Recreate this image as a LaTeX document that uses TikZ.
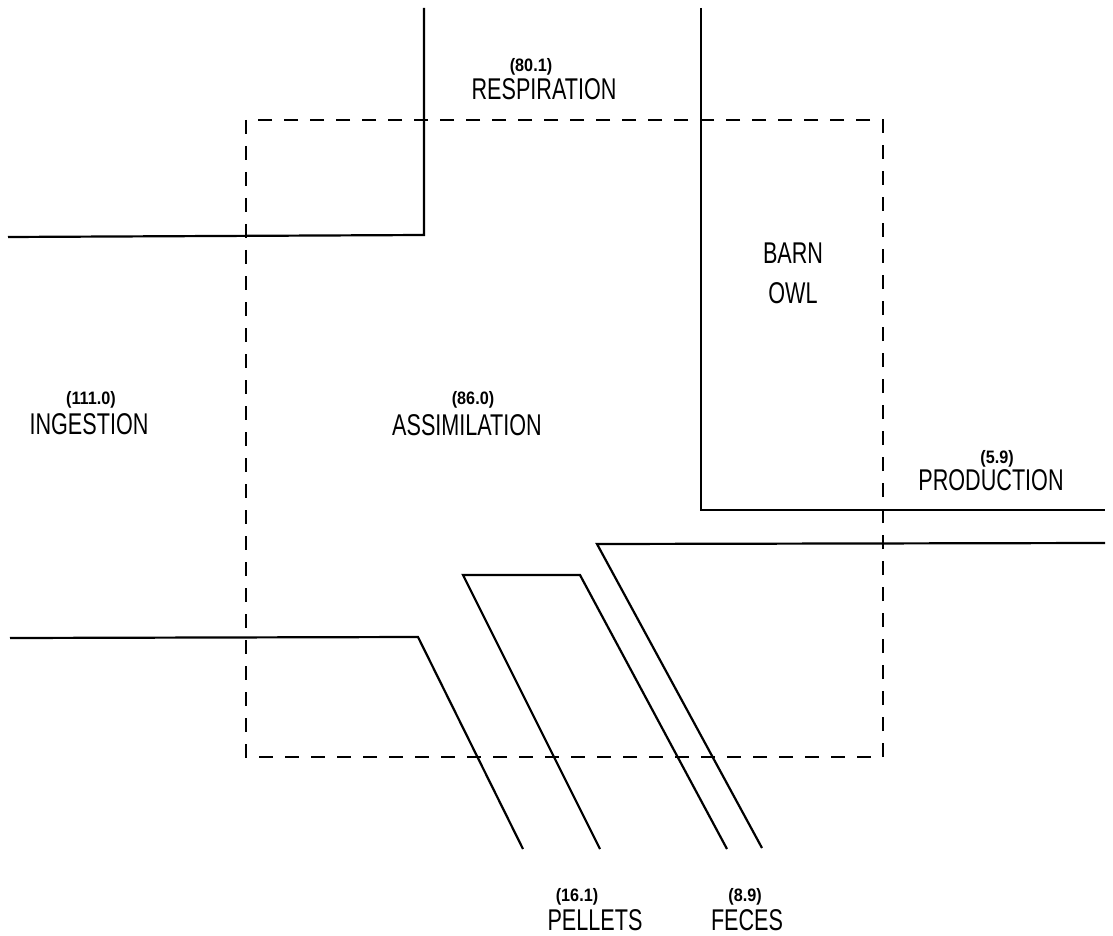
\documentclass[tikz,border=0pt]{standalone}
\usepackage{fontspec}
\setmainfont{Liberation Sans}
\newfontfamily\flowfont[FakeStretch=0.72]{Liberation Sans}
\newfontfamily\valfont[FakeStretch=0.9]{Liberation Sans}
\usetikzlibrary{positioning}

\begin{document}
\begin{tikzpicture}[x=0.5pt, y=-0.5pt,
  flow/.style={line width=1.1pt, line join=miter},
  owlbox/.style={line width=1.1pt, dash pattern=on 7pt off 6pt},
  lbl/.style={font=\flowfont\fontsize{15}{18}\selectfont, inner sep=0pt, align=center},
  val/.style={font=\valfont\bfseries\fontsize{9}{10}\selectfont, inner sep=0pt}]

  \useasboundingbox (0,0) rectangle (1113,936);

  % Barn owl boundary
  \draw[owlbox] (246,120) rectangle (883,757);

  % Ingestion and respiration channel
  \draw[flow] (8,237) -- (424,235) -- (424,8);
  \draw[flow] (701,8) -- (701,510) -- (1105,510);

  % Ingestion lower edge
  \draw[flow] (10,638) -- (418,637) -- (523,849);

  % Pellets
  \draw[flow] (600,849) -- (463,575) -- (580,575) -- (727,849);

  % Feces and production
  \draw[flow] (762,848) -- (597,544) -- (1105,543);

  % Labels
  \node[lbl] (resp) at (544,89) {RESPIRATION};
  \node[val] (respv) at (531,67) {(80.1)};

  \node[lbl] (inges) at (89,424) {INGESTION};
  \node[val] (ingesv) at (91,400) {(111.0)};

  \node[lbl] (assim) at (467,425) {ASSIMILATION};
  \node[val] (assimv) at (473,400) {(86.0)};

  \node[lbl] (owl) at (793,273) {BARN\\[2pt]OWL};

  \node[lbl] (prod) at (991,480) {PRODUCTION};
  \node[val] (prodv) at (997,459) {(5.9)};

  \node[lbl] (pell) at (595,920) {PELLETS};
  \node[val] (pellv) at (577,897) {(16.1)};

  \node[lbl] (fece) at (747,920) {FECES};
  \node[val] (fecev) at (745,897) {(8.9)};
\end{tikzpicture}
\end{document}
